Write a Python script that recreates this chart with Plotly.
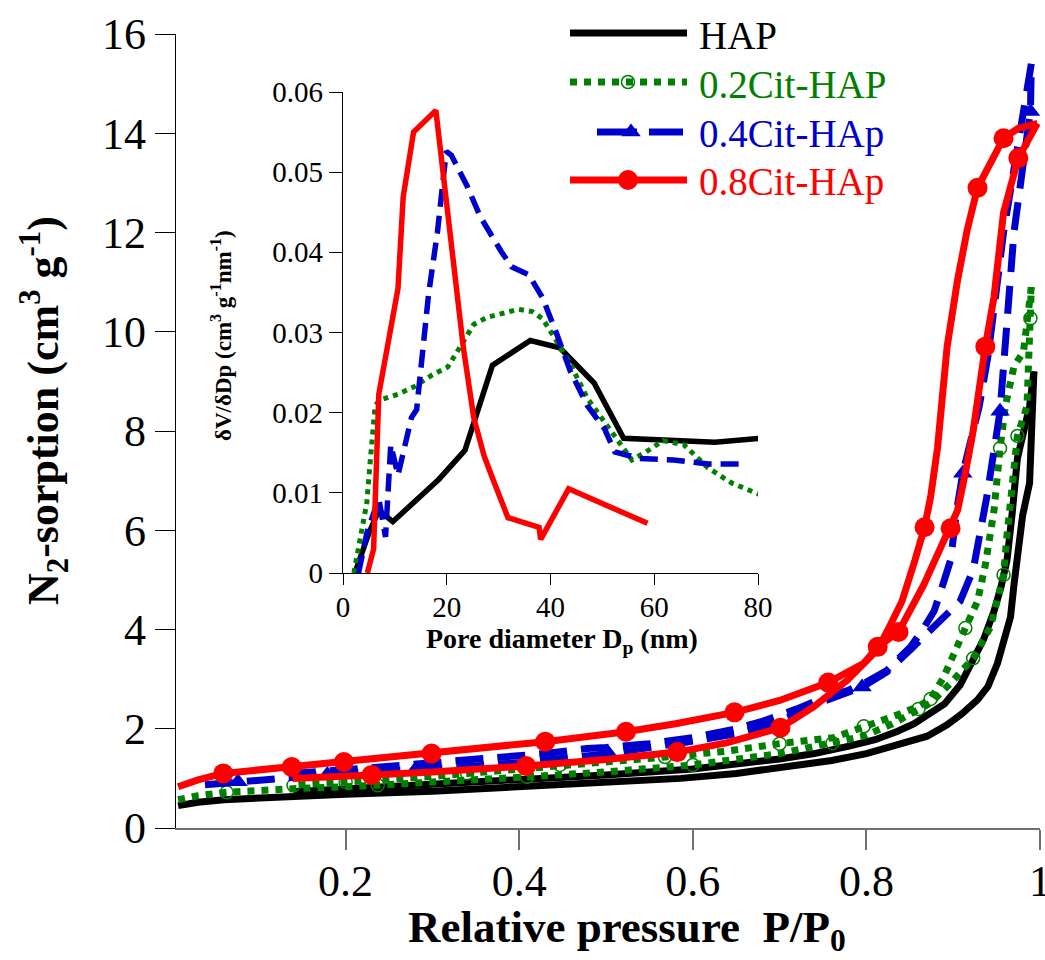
import plotly.graph_objects as go

# ---------------- main plot: N2 sorption isotherms ----------------
# HAP
hap_ads_p = [0.007, 0.03, 0.06, 0.1, 0.14, 0.2, 0.3, 0.4, 0.5, 0.586, 0.65, 0.72, 0.76, 0.8, 0.836, 0.87,
             0.893, 0.91, 0.928, 0.94, 0.951, 0.958, 0.966, 0.97, 0.975, 0.98, 0.988, 0.991, 0.993]
hap_ads_v = [0.45, 0.52, 0.57, 0.61, 0.64, 0.68, 0.74, 0.82, 0.9, 1.0, 1.1, 1.25, 1.36, 1.5, 1.68, 1.85,
             2.08, 2.3, 2.58, 2.85, 3.32, 3.75, 4.25, 4.9, 5.5, 6.3, 6.95, 8.3, 9.2]
hap_des_p = [0.993, 0.988, 0.98, 0.974, 0.968, 0.962, 0.955, 0.947, 0.935, 0.923, 0.908, 0.89, 0.874, 0.855,
             0.836, 0.81, 0.78, 0.74, 0.7, 0.65, 0.6, 0.5, 0.4, 0.3, 0.2, 0.14]
hap_des_v = [9.2, 8.5, 7.9, 7.45, 6.35, 5.4, 4.85, 4.37, 3.8, 3.4, 2.88, 2.5, 2.3, 2.1,
             1.95, 1.78, 1.65, 1.5, 1.39, 1.28, 1.19, 1.07, 0.97, 0.88, 0.79, 0.73]

# 0.2Cit-HAP
c02_ads_p = [0.007, 0.03, 0.063, 0.1, 0.15, 0.2, 0.237, 0.3, 0.355, 0.409, 0.5, 0.6, 0.7, 0.761, 0.797, 0.83,
             0.86, 0.874, 0.897, 0.923, 0.943, 0.958, 0.962, 0.968, 0.974, 0.985, 0.989, 0.99]
c02_ads_v = [0.57, 0.65, 0.72, 0.76, 0.8, 0.83, 0.86, 0.92, 0.97, 1.03, 1.13, 1.27, 1.5, 1.71, 1.85, 2.1,
             2.4, 2.52, 2.92, 3.42, 4.05, 5.1, 5.9, 6.9, 7.9, 8.5, 10.27, 10.9]
c02_ads_mk = [2, 6, 9, 11, 13, 16, 19, 21, 24, 26]
c02_des_p = [0.99, 0.981, 0.97, 0.96, 0.954, 0.947, 0.937, 0.928, 0.914, 0.897, 0.889, 0.874, 0.86, 0.839,
             0.797, 0.762, 0.7, 0.64, 0.568, 0.5, 0.447, 0.4, 0.34, 0.3, 0.25, 0.2, 0.14]
c02_des_v = [10.9, 9.6, 9.3, 8.5, 7.65, 6.4, 5.3, 4.57, 4.03, 3.34, 3.04, 2.6, 2.45, 2.3,
             2.05, 1.82, 1.7, 1.55, 1.43, 1.34, 1.27, 1.2, 1.1, 1.04, 0.98, 0.93, 0.86]
c02_des_mk = [4, 8, 11, 14, 16, 18, 20, 22, 25, 26]

# 0.4Cit-HAp
c04_ads_p = [0.038, 0.076, 0.12, 0.179, 0.22, 0.28, 0.35, 0.41, 0.503, 0.59, 0.65, 0.7, 0.75, 0.795, 0.824,
             0.851, 0.885, 0.908, 0.923, 0.939, 0.954, 0.962, 0.97, 0.98, 0.989, 0.99]
c04_ads_v = [0.87, 0.93, 1.0, 1.08, 1.12, 1.17, 1.25, 1.33, 1.5, 1.72, 1.9, 2.15, 2.55, 2.84, 3.15,
             3.6, 4.17, 4.57, 5.2, 6.7, 8.4, 10.0, 12.0, 13.3, 14.44, 15.4]
c04_ads_mk = [1, 3, 5, 8, 13, 20, 24]
c04_des_p = [0.99, 0.98, 0.97, 0.958, 0.948, 0.94, 0.93, 0.92, 0.911, 0.904, 0.897, 0.888, 0.878, 0.865,
             0.851, 0.836, 0.824, 0.801, 0.78, 0.75, 0.72, 0.68, 0.65, 0.6, 0.55, 0.5, 0.478, 0.43, 0.38,
             0.3, 0.24, 0.18, 0.14]
c04_des_v = [15.4, 14.3, 13.2, 12.0, 10.6, 9.5, 8.5, 7.8, 7.15, 6.4, 5.4, 4.9, 4.37, 4.0,
             3.65, 3.4, 3.18, 2.95, 2.78, 2.62, 2.4, 2.15, 2.0, 1.82, 1.7, 1.62, 1.6, 1.5, 1.42,
             1.32, 1.23, 1.15, 1.1]
c04_des_mk = [8]

# 0.8Cit-HAp
c08_ads_p = [0.007, 0.03, 0.059, 0.1, 0.138, 0.198, 0.25, 0.299, 0.367, 0.43, 0.523, 0.58, 0.648, 0.7, 0.756,
             0.797, 0.813, 0.837, 0.866, 0.897, 0.905, 0.914, 0.923, 0.937, 0.947, 0.958, 0.975, 0.997]
c08_ads_v = [0.83, 0.97, 1.1, 1.17, 1.23, 1.33, 1.41, 1.5, 1.62, 1.74, 1.94, 2.1, 2.33, 2.57, 2.93,
             3.32, 3.65, 3.95, 4.9, 6.04, 6.4, 7.15, 8.0, 9.7, 10.7, 12.4, 13.5, 14.2]
c08_ads_mk = [2, 4, 5, 7, 9, 10, 12, 14, 16, 17, 19, 23, 26]
c08_des_p = [0.997, 0.975, 0.958, 0.928, 0.916, 0.905, 0.893, 0.882, 0.874, 0.867, 0.856, 0.841, 0.825,
             0.813, 0.778, 0.739, 0.701, 0.64, 0.582, 0.5, 0.408, 0.367, 0.3, 0.23, 0.139]
c08_des_v = [14.2, 14.1, 13.9, 12.9, 12.04, 11.04, 9.7, 7.67, 6.67, 6.06, 5.4, 4.57, 4.0,
             3.6, 2.98, 2.44, 2.02, 1.72, 1.53, 1.38, 1.25, 1.2, 1.13, 1.07, 1.0]
c08_des_mk = [2, 3, 9, 16, 18, 20, 23]

# ---------------- inset: pore size distribution ----------------
psd_hap_d = [2.3, 5.0, 6.9, 9.6, 18.5, 23.5, 28.8, 36.1, 41.8, 48.4, 54.1, 63.7, 71.7, 80.3]
psd_hap_v = [0.0, 0.005, 0.0078, 0.0064, 0.0117, 0.0153, 0.0259, 0.029, 0.0281, 0.0237, 0.0168, 0.0165,
             0.0163, 0.0168]
psd_c02_d = [2.1, 3.3, 4.6, 5.2, 6.2, 7.2, 10.6, 13.9, 17.2, 20.2, 22.5, 25.2, 27.8, 30.5, 33.8, 36.5, 38.5,
             41.1, 43.8, 47.1, 50.4, 53.1, 55.7, 58.4, 61.7, 65.7, 70.4, 75.0, 80.3]
psd_c02_v = [0.0, 0.004, 0.0088, 0.0136, 0.0209, 0.0216, 0.0223, 0.0233, 0.0247, 0.0257, 0.0281, 0.031,
             0.0319, 0.0324, 0.0329, 0.0326, 0.0317, 0.029, 0.0261, 0.0218, 0.0189, 0.0165, 0.0141, 0.0151,
             0.0165, 0.016, 0.0131, 0.0112, 0.0098]
psd_c04_d = [3.0, 4.6, 6.9, 8.2, 9.2, 10.6, 13.2, 14.2, 16.5, 18.2, 19.9, 20.9, 23.9, 26.5, 30.5, 32.5, 35.8,
             38.5, 41.1, 43.8, 47.1, 50.4, 52.4, 57.1, 63.7, 70.4, 77.7]
psd_c04_v = [0.0, 0.005, 0.0093, 0.0045, 0.016, 0.0122, 0.0194, 0.0204, 0.0348, 0.0425, 0.0526, 0.0521,
             0.0483, 0.0444, 0.0401, 0.0382, 0.0372, 0.0343, 0.03, 0.0252, 0.0209, 0.018, 0.0151, 0.0143,
             0.0141, 0.0136, 0.0136]
psd_c08_d = [4.7, 5.9, 6.9, 10.6, 11.6, 13.6, 17.9, 19.2, 21.2, 23.2, 25.2, 27.2, 29.2, 31.8, 37.8, 38.1,
             43.5, 58.7]
psd_c08_v = [0.0, 0.003, 0.0223, 0.0355, 0.0469, 0.055, 0.0577, 0.0502, 0.0401, 0.0281, 0.0194, 0.0146,
             0.0112, 0.0069, 0.0057, 0.0042, 0.0105, 0.0062]

series_names = ["HAP", "0.2Cit-HAP", "0.4Cit-HAp", "0.8Cit-HAp"]
main_x_ticks = [0.2, 0.4, 0.6, 0.8, 1.0]
main_x_text = ["0.2", "0.4", "0.6", "0.8", "1"]
main_y_ticks = [0, 2, 4, 6, 8, 10, 12, 14, 16]
inset_x_ticks = [0, 20, 40, 60, 80]
inset_y_ticks = [0, 0.01, 0.02, 0.03, 0.04, 0.05, 0.06]
inset_y_text = ["0", "0.01", "0.02", "0.03", "0.04", "0.05", "0.06"]

BLACK = "#000000"
GREEN = "#008000"
BLUE = "#0000CD"
RED = "#FF0000"
SERIF = "Liberation Serif"
W, H = 1045, 960

fig = go.Figure()


def px_x(p):
    return p / W


def px_y(p):
    return 1 - p / H


def line(x, y, color, width, dash="solid", xa="x", ya="y"):
    fig.add_trace(go.Scatter(x=x, y=y, mode="lines", xaxis=xa, yaxis=ya, hoverinfo="skip",
                             line=dict(color=color, width=width, dash=dash), showlegend=False))


def marks(x, y, idx, symbol, size, color, lw=0, xa="x", ya="y"):
    fig.add_trace(go.Scatter(x=[x[i] for i in idx], y=[y[i] for i in idx], mode="markers",
                             xaxis=xa, yaxis=ya, hoverinfo="skip", showlegend=False, cliponaxis=False,
                             marker=dict(symbol=symbol, size=size, color=color,
                                         line=dict(color=color, width=lw))))


# main traces
MW = 7
line(hap_ads_p, hap_ads_v, BLACK, MW)
line(hap_des_p, hap_des_v, BLACK, MW)
line(c02_ads_p, c02_ads_v, GREEN, MW, "dot")
line(c02_des_p, c02_des_v, GREEN, MW, "dot")
marks(c02_ads_p, c02_ads_v, c02_ads_mk, "circle-open", 13, GREEN, 1.5)
marks(c02_des_p, c02_des_v, c02_des_mk, "circle-open", 13, GREEN, 1.5)
line(c04_ads_p, c04_ads_v, BLUE, MW, "28px,14px")
line(c04_des_p, c04_des_v, BLUE, MW, "28px,14px")
marks(c04_ads_p, c04_ads_v, c04_ads_mk, "triangle-up", 17, BLUE)
marks(c04_des_p, c04_des_v, c04_des_mk, "triangle-up", 17, BLUE)
line(c08_ads_p, c08_ads_v, RED, MW)
line(c08_des_p, c08_des_v, RED, MW)
marks(c08_ads_p, c08_ads_v, c08_ads_mk, "circle", 20, RED)
marks(c08_des_p, c08_des_v, c08_des_mk, "circle", 20, RED)

# inset traces
IW = 5.5
line(psd_hap_d, psd_hap_v, BLACK, IW, xa="x2", ya="y2")
line(psd_c02_d, psd_c02_v, GREEN, 5, "dot", xa="x2", ya="y2")
line(psd_c04_d, psd_c04_v, BLUE, IW, "18px,9px", xa="x2", ya="y2")
line(psd_c08_d, psd_c08_v, RED, IW, xa="x2", ya="y2")

# legend (drawn on a pixel-like overlay axis)
leg_rows = [33, 82, 132, 180]
leg_colors = [BLACK, GREEN, BLUE, RED]
line([570, 687], [leg_rows[0]] * 2, BLACK, MW, xa="x3", ya="y3")
line([570, 687], [leg_rows[1]] * 2, GREEN, MW, "dot", xa="x3", ya="y3")
marks([628], [leg_rows[1]], [0], "circle-open", 13, GREEN, 1.5, xa="x3", ya="y3")
line([597, 683], [leg_rows[2]] * 2, BLUE, MW, "40px,12px", xa="x3", ya="y3")
marks([631], [leg_rows[2]], [0], "triangle-up", 17, BLUE, xa="x3", ya="y3")
line([570, 687], [leg_rows[3]] * 2, RED, MW, xa="x3", ya="y3")
marks([628], [leg_rows[3]], [0], "circle", 20, RED, xa="x3", ya="y3")

annotations = []
for name, row, col in zip(series_names, leg_rows, leg_colors):
    annotations.append(dict(text=name, x=px_x(697), y=px_y(row + 2), xref="paper", yref="paper",
                            xanchor="left", yanchor="middle", showarrow=False,
                            font=dict(family=SERIF, size=39, color=col)))

annotations += [
    dict(text="<b>N<sub>2</sub>-sorption (cm<sup>3</sup> g<sup>-1</sup>)</b>", textangle=-90,
         x=px_x(44), y=px_y(411), xref="paper", yref="paper", xanchor="center", yanchor="middle",
         showarrow=False, font=dict(family=SERIF, size=44, color=BLACK)),
    dict(text="<b>Relative pressure&nbsp;&nbsp;P/P<sub>0</sub></b>",
         x=px_x(627), y=px_y(930), xref="paper", yref="paper", xanchor="center", yanchor="middle",
         showarrow=False, font=dict(family=SERIF, size=45, color=BLACK)),
    dict(text="<b>Pore diameter D<sub>p</sub> (nm)</b>",
         x=px_x(562), y=px_y(640), xref="paper", yref="paper", xanchor="center", yanchor="middle",
         showarrow=False, font=dict(family=SERIF, size=28, color=BLACK)),
    dict(text="<b>δV/δDp (cm<sup>3</sup> g<sup>-1</sup>nm<sup>-1</sup>)</b>", textangle=-90,
         x=px_x(221), y=px_y(336), xref="paper", yref="paper", xanchor="center", yanchor="middle",
         showarrow=False, font=dict(family=SERIF, size=23, color=BLACK)),
]

tickfont_main = dict(family=SERIF, size=44, color=BLACK)
tickfont_inset = dict(family=SERIF, size=29, color=BLACK)

fig.update_layout(
    width=W, height=H,
    margin=dict(l=0, r=0, t=0, b=0, pad=0),
    paper_bgcolor="white", plot_bgcolor="rgba(0,0,0,0)",
    showlegend=False,
    annotations=annotations,
    xaxis=dict(domain=[176 / W, 1040 / W], range=[0.0046, 1.0], anchor="y",
               tickvals=main_x_ticks, ticktext=main_x_text, ticks="outside", ticklen=20, tickwidth=1.5,
               tickcolor="#707070", showline=True, linecolor="#707070", linewidth=2,
               ticklabelstandoff=-7, ticklabeloverflow="allow",
               showgrid=False, zeroline=False, tickfont=tickfont_main, automargin=False),
    yaxis=dict(domain=[1 - 828 / H, 1 - 34 / H], range=[0, 16], anchor="x",
               tickvals=main_y_ticks, ticks="outside", ticklen=20, tickwidth=1.2, tickcolor=BLACK,
               showline=True, linecolor=BLACK, linewidth=1.2,
               showgrid=False, zeroline=False, tickfont=tickfont_main, automargin=False),
    xaxis2=dict(domain=[343 / W, 758 / W], range=[0, 80], anchor="y2",
                tickvals=inset_x_ticks, ticks="outside", ticklen=11, tickwidth=1.2, tickcolor=BLACK,
                showline=True, linecolor=BLACK, linewidth=1.2, ticklabelstandoff=-3,
                showgrid=False, zeroline=False, tickfont=tickfont_inset, automargin=False),
    yaxis2=dict(domain=[1 - 573 / H, 1 - 92 / H], range=[0, 0.06], anchor="x2",
                tickvals=inset_y_ticks, ticktext=inset_y_text, ticks="outside", ticklen=13, tickwidth=1.2,
                tickcolor=BLACK, showline=True, linecolor=BLACK, linewidth=1.2,
                showgrid=False, zeroline=False, tickfont=tickfont_inset, automargin=False),
    xaxis3=dict(domain=[0, 1], range=[0, W], anchor="y3", visible=False, fixedrange=True),
    yaxis3=dict(domain=[0, 1], range=[H, 0], anchor="x3", visible=False, fixedrange=True),
)

fig.write_html("out.html", config={"displayModeBar": False},
               post_script="document.body.style.margin='0px';document.body.style.overflow='hidden';")
